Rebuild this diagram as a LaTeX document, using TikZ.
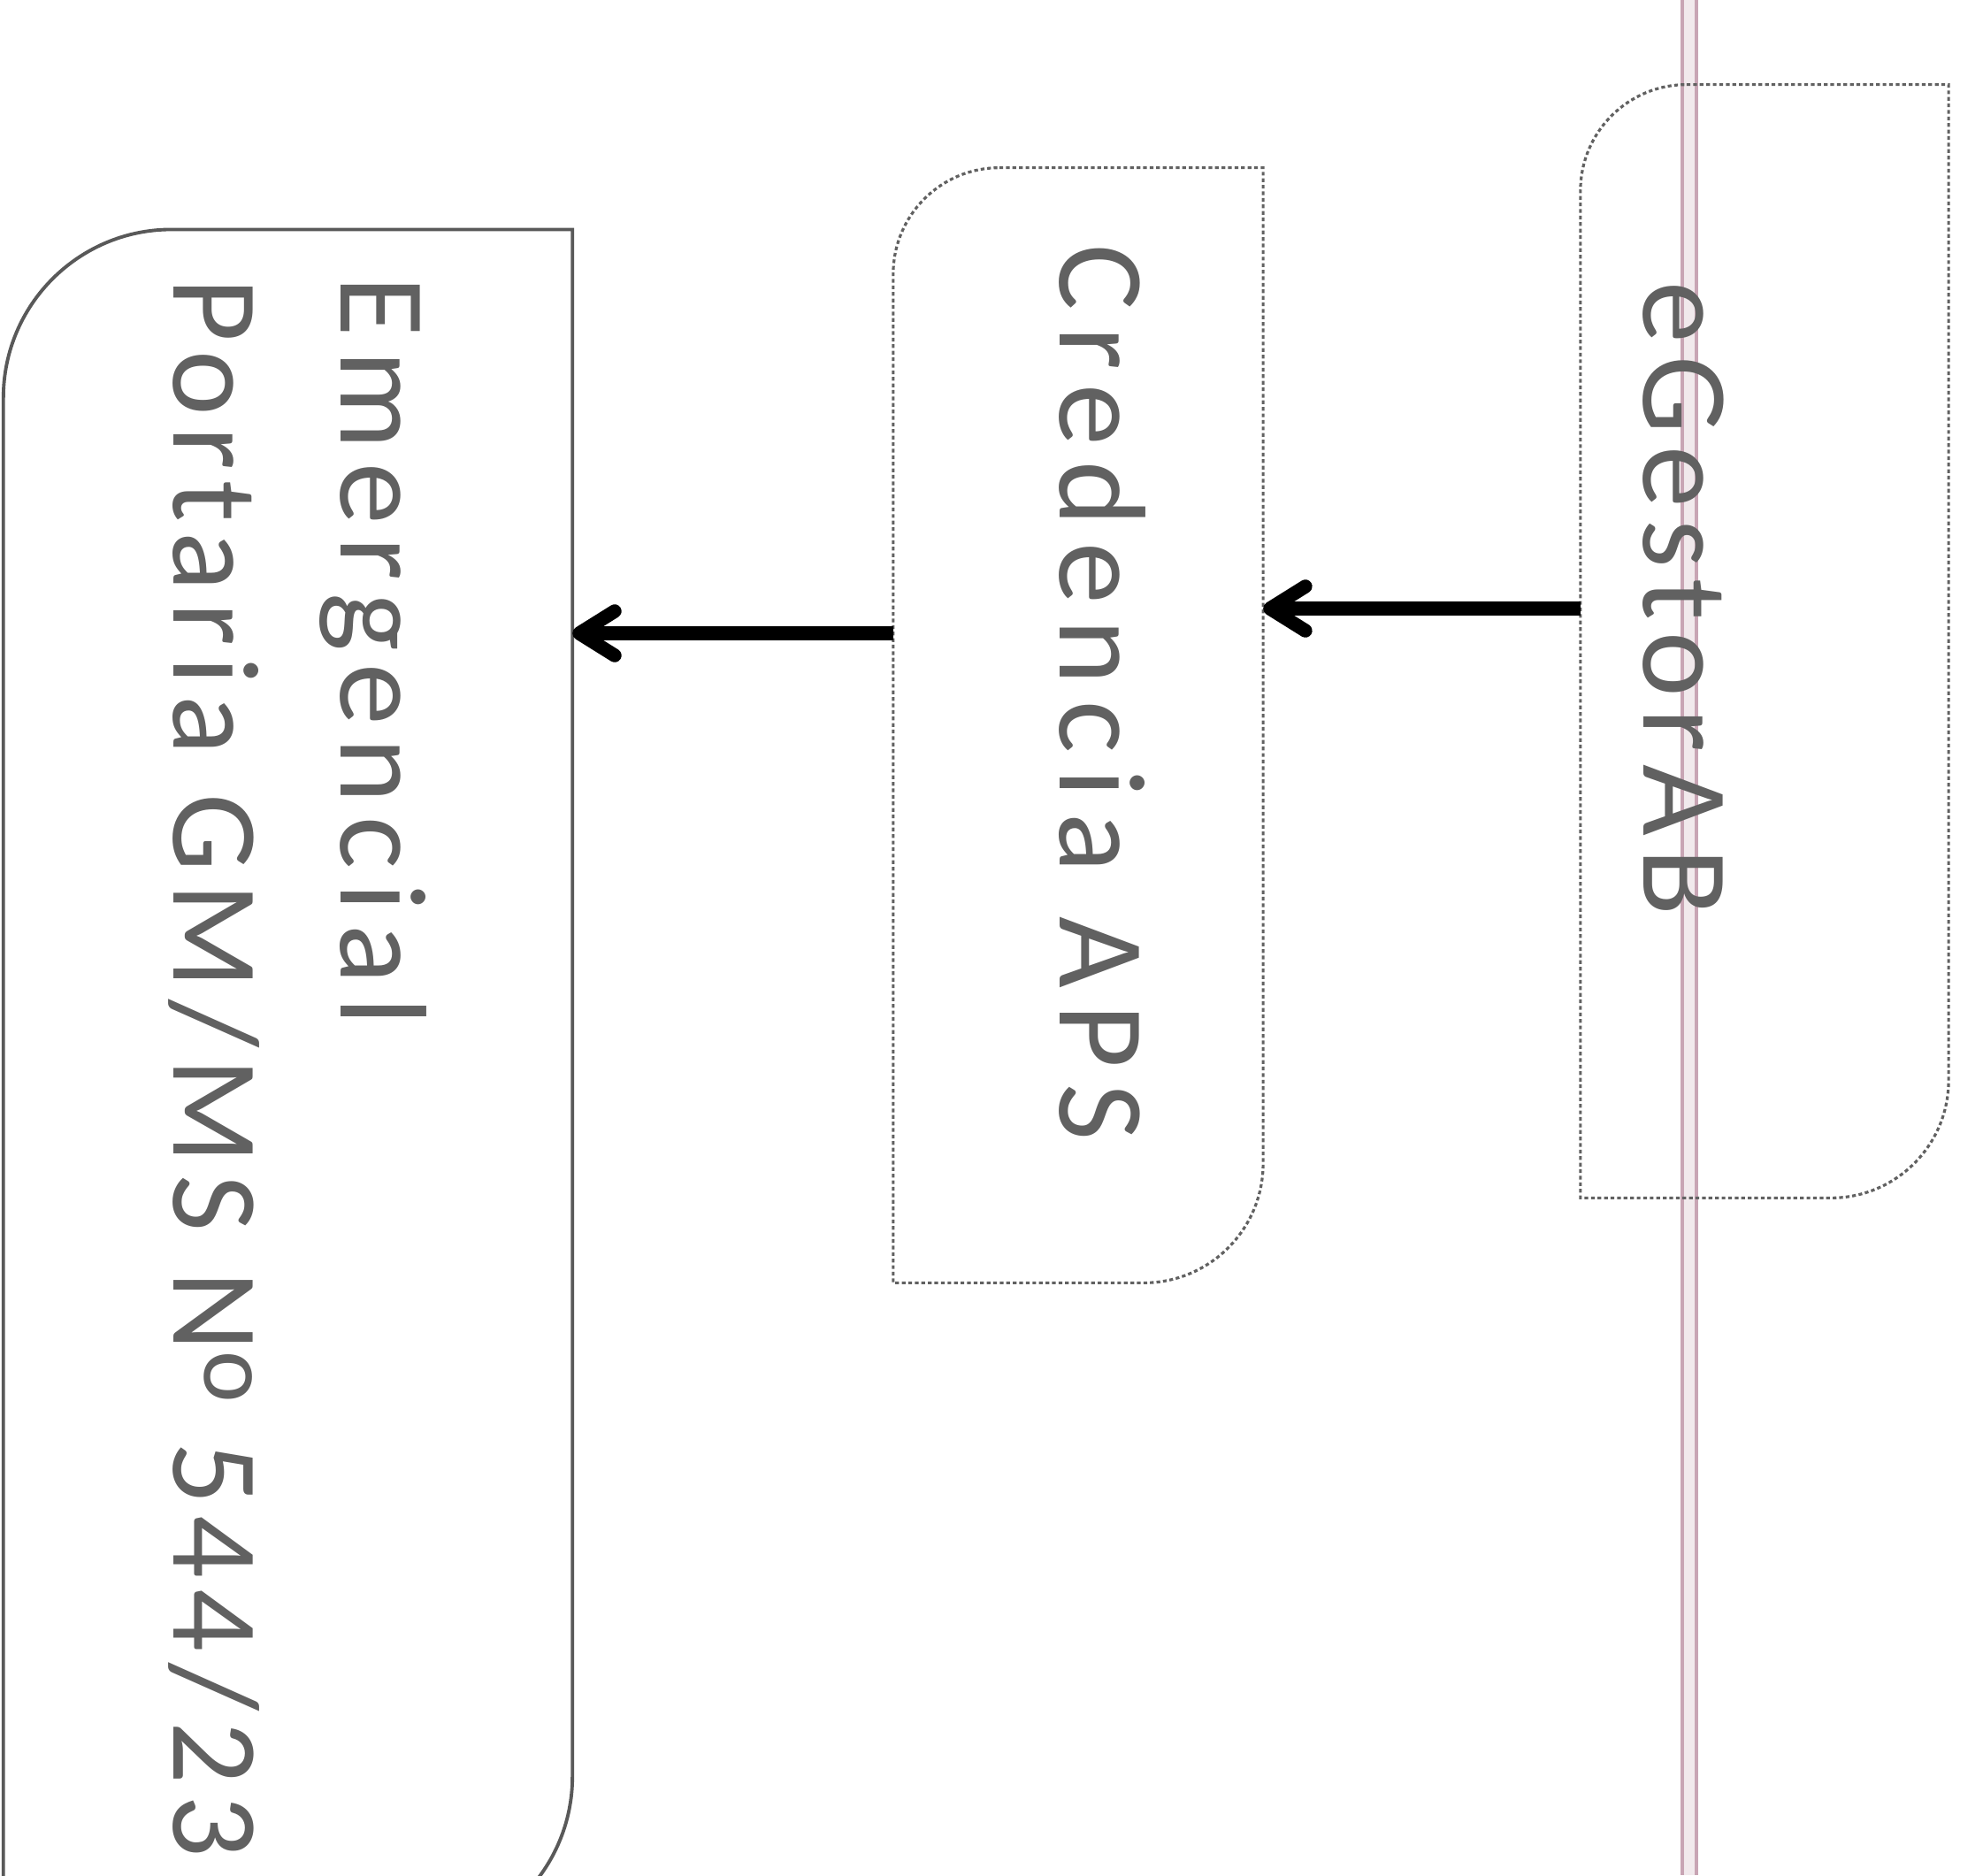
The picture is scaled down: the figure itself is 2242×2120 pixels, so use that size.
\documentclass[tikz,border=0pt]{standalone}
\usepackage{fontspec}
\usetikzlibrary{arrows.meta}
\newfontfamily\labelfont{Carlito}
\definecolor{scanpink}{RGB}{200,165,180}

\begin{document}
\begin{tikzpicture}[
  x=0.01cm, y=0.01cm,
  frame/.style={inner sep=0pt, outer sep=0pt},
  boxline/.style={draw=black!62, line width=0.9pt, dash pattern=on 1.2pt off 0.9pt},
  solidline/.style={draw=black!65, line width=1.1pt},
  boxtext/.style={rotate=-90, anchor=base west, inner sep=0pt, text=black!62,
    font=\labelfont\addfontfeature{LetterSpace=#1}\fontsize{39.7pt}{50pt}\selectfont},
  flow/.style={line width=4.4pt, -{Straight Barb[length=0.4cm, width=0.5cm, round]}},
  scanline/.style={draw=scanpink, line width=1.3pt}
]
\useasboundingbox[fill=white] (0,0) rectangle (2242,-2120);

% scanner line
\fill[scanpink!25] (1902,0) rectangle (1918,-2120);
\draw[scanline] (1902,0) -- (1902,-2120) (1918,0) -- (1918,-2120);

% boxes
\node[frame, minimum width=4.16cm, minimum height=12.58cm] (egbox) at (1995,-725) {};
\node[frame, minimum width=4.18cm, minimum height=12.60cm] (credbox) at (1219,-820) {};
\node[frame, minimum width=6.43cm, minimum height=19.38cm] (emergbox) at (325.5,-1229) {};

\draw[boxline] ([xshift=1.2cm]egbox.north west) -- (egbox.north east)
  -- ([yshift=1.33cm]egbox.south east) arc[start angle=0, end angle=-90, radius=1.33cm]
  -- (egbox.south west) -- ([yshift=-1.2cm]egbox.north west) arc[start angle=180, end angle=90, radius=1.2cm];
\draw[boxline] ([xshift=1.2cm]credbox.north west) -- (credbox.north east)
  -- ([yshift=1.35cm]credbox.south east) arc[start angle=0, end angle=-90, radius=1.35cm]
  -- (credbox.south west) -- ([yshift=-1.2cm]credbox.north west) arc[start angle=180, end angle=90, radius=1.2cm];
\draw[solidline] ([xshift=1.9cm]emergbox.north west) -- (emergbox.north east)
  -- ([yshift=1.9cm]emergbox.south east) arc[start angle=0, end angle=-90, radius=1.9cm]
  -- (emergbox.south west) -- ([yshift=-1.9cm]emergbox.north west) arc[start angle=180, end angle=90, radius=1.9cm];

% texts
\node[boxtext=10] (egtext) at (1858,-318) {eGestorAB};
\node[boxtext=13] (credtext) at (1198,-276) {Credencia APS};
\node[boxtext=11] (emergtext) at (385,-312) {Emergencial};
\node[boxtext=9] (portext) at (196,-314) {Portaria GM/MS N\raisebox{0.35cm}{\fontsize{31.6pt}{32pt}\selectfont o} 544/23};

% arrows
\draw[flow] (egbox.west |- 0,-688) -- (credbox.east |- 0,-688);
\draw[flow] (credbox.west |- 0,-716) -- (emergbox.east |- 0,-716);
\end{tikzpicture}
\end{document}
